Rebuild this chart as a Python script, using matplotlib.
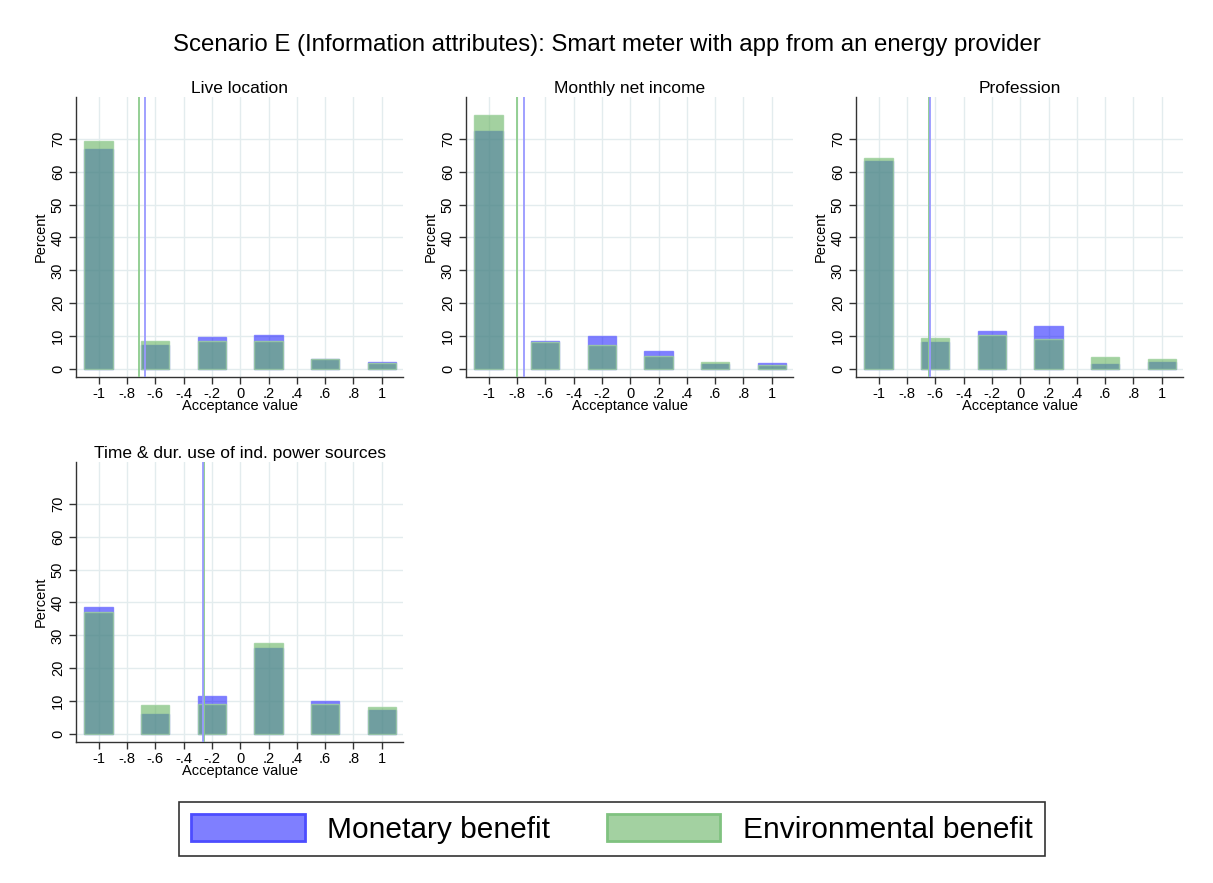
import matplotlib
matplotlib.use("Agg")
import matplotlib.pyplot as plt
from matplotlib.patches import Patch

plt.rcParams['font.family'] = ['Liberation Sans', 'DejaVu Sans']

# Data
values = [-1, -0.6, -0.2, 0.2, 0.6, 1]
titles = ["Live location", "Monthly net income", "Profession",
          "Time & dur. use of ind. power sources"]

# percent per acceptance value
monetary = [
    [67.0, 7.2, 9.9, 10.4, 3.2, 2.3],
    [72.5, 8.4, 10.1, 5.6, 1.5, 1.9],
    [63.3, 8.1, 11.7, 13.0, 1.7, 2.3],
    [38.7, 6.1, 11.5, 26.1, 10.2, 7.3],
]
environmental = [
    [69.3, 8.6, 8.6, 8.6, 3.0, 1.8],
    [77.2, 8.1, 7.3, 4.0, 2.1, 1.1],
    [64.3, 9.6, 10.3, 9.0, 3.7, 3.1],
    [37.0, 8.8, 9.1, 27.8, 9.1, 8.2],
]
# mean acceptance (vertical lines)
mean_monetary = [-0.673, -0.75, -0.64, -0.263]
mean_environmental = [-0.715, -0.802, -0.647, -0.256]

xticks = [-1, -0.8, -0.6, -0.4, -0.2, 0, 0.2, 0.4, 0.6, 0.8, 1]
xticklabels = ["-1", "-.8", "-.6", "-.4", "-.2", "0", ".2", ".4", ".6", ".8", "1"]
yticks = [0, 10, 20, 30, 40, 50, 60, 70]

blue_fc = (0, 0, 1, 0.5)
blue_ec = (0.45, 0.45, 1, 0.8)
green_fc = (0.40, 0.70, 0.38, 0.6)
green_ec = (0.62, 0.82, 0.62, 0.8)
grid_c = "#e3ecee"

fig = plt.figure(figsize=(12.13, 8.83), dpi=100)

W, H = 1213, 883
boxes = [(76, 97), (466, 97), (856, 97), (76, 462)]  # left, top in px
aw, ah = 327, 280

for i, (lx, ty) in enumerate(boxes):
    ax = fig.add_axes([lx / W, 1 - (ty + ah) / H, aw / W, ah / H])
    ax.set_xlim(-1.16, 1.15)
    ax.set_ylim(-2.4, 82.7)
    ax.set_xticks(xticks)
    ax.set_xticklabels(xticklabels, fontsize=10.5)
    ax.set_yticks(yticks)
    ax.set_yticklabels([str(t) for t in yticks], fontsize=10.5, rotation=90, va="center")
    for t in xticks:
        ax.axvline(t, color=grid_c, lw=1, zorder=0)
    for t in yticks:
        ax.axhline(t, color=grid_c, lw=1, zorder=0)
    ax.bar(values, monetary[i], width=0.2, color=blue_fc, edgecolor=blue_ec, lw=1, zorder=2)
    ax.bar(values, environmental[i], width=0.2, color=green_fc, edgecolor=green_ec, lw=1, zorder=3)
    ax.axvline(mean_environmental[i], color=(0.55, 0.80, 0.55), lw=1.3, zorder=4)
    ax.axvline(mean_monetary[i], color=(0.6, 0.6, 1.0), lw=1.3, zorder=4)
    for s in ["top", "right"]:
        ax.spines[s].set_visible(False)
    for s in ["left", "bottom"]:
        ax.spines[s].set_color("#333333")
        ax.spines[s].set_linewidth(1)
    ax.tick_params(length=5, width=1, color="#333333", pad=2)
    ax.tick_params(axis="y", pad=3)
    ax.set_ylabel("Percent", fontsize=10.5, labelpad=2)
    ax.set_xlabel("Acceptance value", fontsize=10.5, labelpad=-1)
    ax.set_title(titles[i], fontsize=12.5, pad=3)

fig.suptitle("Scenario E (Information attributes): Smart meter with app from an energy provider",
             fontsize=17.3, y=1 - 45 / H, va="center")

handles = [Patch(facecolor=blue_fc, edgecolor=(0.3, 0.3, 1), lw=2, label="Monetary benefit"),
           Patch(facecolor=(0.64, 0.82, 0.63), edgecolor=(0.5, 0.76, 0.5), lw=2,
                 label="Environmental benefit")]
leg = fig.legend(handles=handles, loc="center", bbox_to_anchor=(612 / W, 1 - 829 / H),
                 ncol=2, fontsize=21.5, frameon=True, fancybox=False, edgecolor="black",
                 handlelength=3.8, handleheight=1.0, handletextpad=0.75, columnspacing=1.9,
                 borderpad=0.4)
leg.get_frame().set_linewidth(1.2)

fig.savefig("out.png", dpi=100, facecolor="white")
